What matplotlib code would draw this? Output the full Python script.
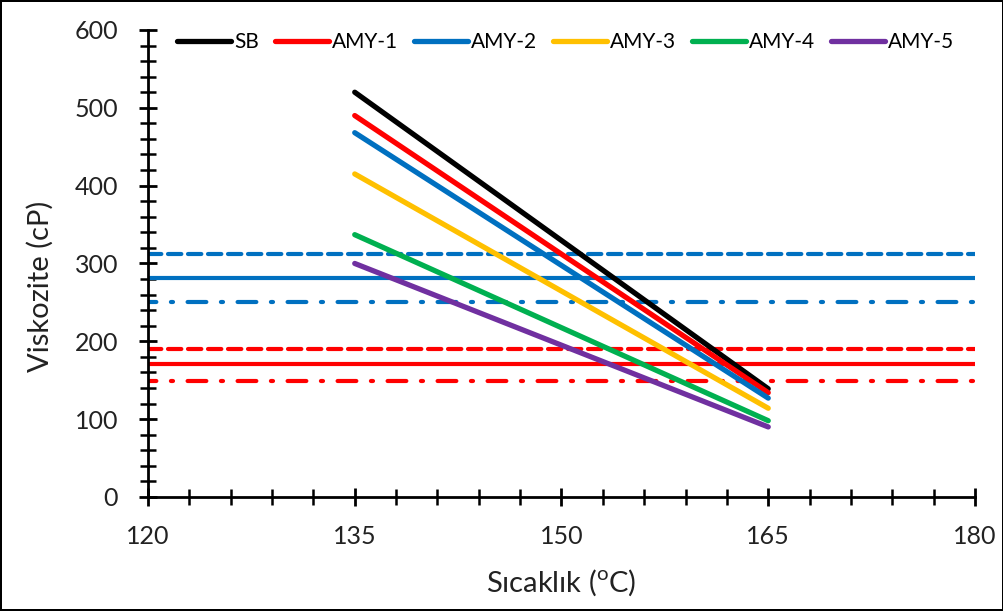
import numpy as np
from matplotlib import pyplot as plt
from matplotlib.ticker import MultipleLocator

plt.rcParams["font.family"] = ["Lato", "DejaVu Sans"]

# viscosity vs temperature
temps = [135, 165]
series_names = ["SB", "AMY-1", "AMY-2", "AMY-3", "AMY-4", "AMY-5"]
sb = [520, 139]
amy1 = [490, 134]
amy2 = [468, 127]
amy3 = [415, 114]
amy4 = [337, 98]
amy5 = [300, 90]
colors = ["black", "#FF0000", "#0070C0", "#FFC000", "#00B050", "#7030A0"]

# limit lines (blue: upper group, red: lower group)
x_span = [120, 180]
blue_limits = [312, 281, 251]
red_limits = [190, 171, 149]


def main():
    fig = plt.figure(figsize=(10.04, 6.11), dpi=100)
    fig.patch.set_edgecolor("black")
    fig.patch.set_linewidth(1.5)
    ax = fig.add_axes([0.1474, 0.1866, 0.8237, 0.7644])

    dashed = (0, (3.2, 1.6))
    dashdot = (2.5, (4.5, 3.5, 0.5, 3.5))
    styles = [dashed, "-", dashdot]
    for val, ls in zip(blue_limits, styles):
        ax.plot(x_span, [val, val], color="#0070C0", linewidth=3, linestyle=ls,
                dash_capstyle="round", solid_capstyle="butt")
    for val, ls in zip(red_limits, styles):
        ax.plot(x_span, [val, val], color="#FF0000", linewidth=3, linestyle=ls,
                dash_capstyle="round", solid_capstyle="butt")

    for name, vals, c in zip(series_names, [sb, amy1, amy2, amy3, amy4, amy5], colors):
        ax.plot(temps, vals, color=c, linewidth=3.8, label=name,
                solid_capstyle="round")

    ax.set_xlim(120, 180)
    ax.set_ylim(0, 600)
    ax.xaxis.set_major_locator(MultipleLocator(15))
    ax.xaxis.set_minor_locator(MultipleLocator(3))
    ax.yaxis.set_major_locator(MultipleLocator(100))
    ax.yaxis.set_minor_locator(MultipleLocator(20))
    ax.tick_params(which="major", direction="inout", length=13, width=2,
                   labelsize=18, colors="black")
    ax.tick_params(axis="x", which="major", pad=14)
    ax.tick_params(axis="y", which="major", pad=15)
    ax.tick_params(which="minor", direction="inout", length=11, width=1.8)
    for lbl in ax.get_xticklabels() + ax.get_yticklabels():
        lbl.set_color("#222222")

    for s in ["top", "right"]:
        ax.spines[s].set_visible(False)
    for s in ["left", "bottom"]:
        ax.spines[s].set_linewidth(2)

    ax.set_xlabel(r"Sıcaklık ($^\mathregular{o}$C)", fontsize=21, color="#222222")
    ax.set_ylabel("Viskozite (cP)", fontsize=21, color="#222222")
    ax.xaxis.set_label_coords(0.5, -0.15)
    ax.yaxis.set_label_coords(-0.114, 0.45)

    ax.legend(loc="upper center", bbox_to_anchor=(0.505, 1.035), ncol=6,
              frameon=False, fontsize=15, handlelength=2.6, handletextpad=0.15,
              columnspacing=0.75)

    plt.savefig("out.png", dpi=100, edgecolor=fig.get_edgecolor())


if __name__ == "__main__":
    main()
